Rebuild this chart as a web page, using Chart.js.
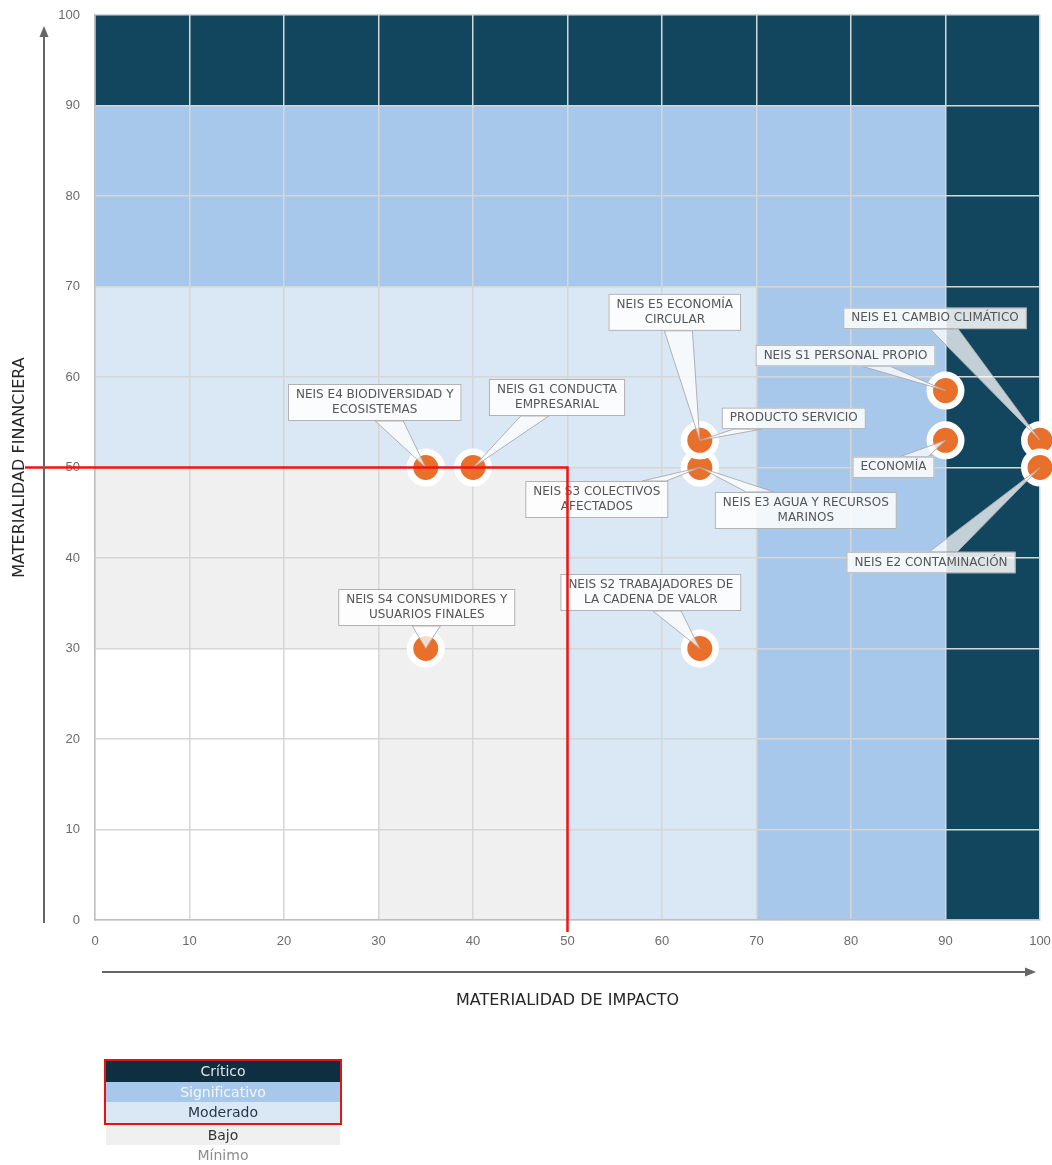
<!DOCTYPE html>
<html lang="es">
<head>
<meta charset="utf-8">
<title>Matriz de doble materialidad</title>
<script src="https://cdn.jsdelivr.net/npm/chart.js@4.4.1/dist/chart.umd.min.js"></script>
<style>
  body { margin: 0; background: #fff; }
  #wrap { position: relative; width: 1052px; height: 1165px; }
  #legend { position: absolute; left: 106px; top: 1059px; width: 234px; font: 14px 'DejaVu Sans', sans-serif; }
  #legend .row { height: 20.6px; line-height: 20.6px; text-align: center; }
  #legend .box { border: 2px solid #e8120f; margin: 0 -2px; }
</style>
</head>
<body>
<div id="wrap">
  <canvas id="matrix" width="1052" height="1165"></canvas>
  <div id="legend"></div>
</div>
<script>
// temas materiales: impacto (x) y financiera (y)
const topics = [
  'NEIS E4 BIODIVERSIDAD Y\nECOSISTEMAS',
  'NEIS G1 CONDUCTA\nEMPRESARIAL',
  'NEIS S4 CONSUMIDORES Y\nUSUARIOS FINALES',
  'NEIS S2 TRABAJADORES DE\nLA CADENA DE VALOR',
  'NEIS S3 COLECTIVOS\nAFECTADOS',
  'NEIS E3 AGUA Y RECURSOS\nMARINOS',
  'NEIS E5 ECONOMÍA\nCIRCULAR',
  'PRODUCTO SERVICIO',
  'NEIS S1 PERSONAL PROPIO',
  'ECONOMÍA',
  'NEIS E1 CAMBIO CLIMÁTICO',
  'NEIS E2 CONTAMINACIÓN'
];
const impacto    = [35, 40, 35, 64, 64, 64, 64, 64, 90, 90, 100, 100];
const financiera = [50, 50, 30, 30, 50, 50, 53, 53, 58.5, 53, 53, 50];

// niveles: limite superior de cada cuadrado anidado
const zoneNames  = ['Crítico', 'Significativo', 'Moderado', 'Bajo', 'Mínimo'];
const zoneLimits = [100, 90, 70, 50, 30];
const umbral = 50;

const axisTicks = [0, 10, 20, 30, 40, 50, 60, 70, 80, 90, 100];

// estilos
const zoneColors   = ['#12465f', '#a7c8ea', '#dae7f4', '#f0f0f0', '#ffffff'];
const legendColors = ['#0e2e42', '#a7c8ea', '#dae7f4', '#f0f0f0', '#ffffff'];
const legendText   = ['#e4e4e4', '#f2f7fc', '#24384a', '#333333', '#8c8c8c'];
// desplazamiento de cada etiqueta respecto a su punto (px)
const calloutShift = [
  [-51, -65], [84, -70], [1, -41], [-49, -56], [-103, 32], [106, 43],
  [-25, -128], [94, -22], [-100, -35], [-52, 27], [-105, -122], [-109, 95]
];
const calloutFont = "12px 'DejaVu Sans', sans-serif";

const zonesPlugin = {
  id: 'zones',
  beforeDraw(chart) {
    const { ctx, scales: { x, y } } = chart;
    ctx.save();
    zoneLimits.forEach((lim, i) => {
      const x0 = x.getPixelForValue(0), x1 = x.getPixelForValue(lim);
      const y0 = y.getPixelForValue(0), y1 = y.getPixelForValue(lim);
      ctx.fillStyle = zoneColors[i];
      ctx.fillRect(x0, y1, x1 - x0, y0 - y1);
    });
    ctx.restore();
  }
};

function drawCallout(ctx, px, py, lines, cx, cy) {
  ctx.font = calloutFont;
  const w = Math.max(...lines.map(l => ctx.measureText(l).width)) + 16;
  const h = lines.length * 15.5 + 6;
  const bx = cx - w / 2, by = cy - h / 2;
  const dx = px - cx, dy = py - cy;
  const tx = dx !== 0 ? (w / 2) / Math.abs(dx) : Infinity;
  const ty = dy !== 0 ? (h / 2) / Math.abs(dy) : Infinity;
  const hw = 14;
  let a, b;
  if (ty < tx) {
    const ex = cx + dx * ty, ey = cy + dy * ty;
    const l = Math.max(bx + 2, ex - hw), r = Math.min(bx + w - 2, ex + hw);
    a = [l, ey]; b = [r, ey];
  } else {
    const ex = cx + dx * tx, ey = cy + dy * tx;
    const hv = Math.min(hw, h / 2 - 2);
    const t = Math.max(by + 2, ey - hv), btm = Math.min(by + h - 2, ey + hv);
    a = [ex, t]; b = [ex, btm];
  }
  // cuña hacia el punto, recortada fuera del recuadro
  ctx.save();
  ctx.beginPath();
  ctx.rect(0, 0, ctx.canvas.width, ctx.canvas.height);
  ctx.rect(bx, by, w, h);
  ctx.clip('evenodd');
  ctx.beginPath();
  ctx.moveTo(a[0], a[1]);
  ctx.lineTo(px, py);
  ctx.lineTo(b[0], b[1]);
  ctx.closePath();
  ctx.fillStyle = 'rgba(255,255,255,0.75)';
  ctx.fill();
  ctx.strokeStyle = 'rgba(170,170,170,0.9)';
  ctx.lineWidth = 1;
  ctx.stroke();
  ctx.restore();

  ctx.fillStyle = 'rgba(255,255,255,0.85)';
  ctx.fillRect(bx, by, w, h);
  ctx.strokeStyle = 'rgba(170,170,170,0.9)';
  ctx.lineWidth = 1;
  ctx.strokeRect(bx + 0.5, by + 0.5, w - 1, h - 1);
  ctx.fillStyle = '#555555';
  ctx.textAlign = 'center';
  ctx.textBaseline = 'middle';
  lines.forEach((l, i) => {
    ctx.fillText(l, cx, by + 3 + 7.75 + i * 15.5);
  });
}

const overlayPlugin = {
  id: 'overlay',
  afterDatasetsDraw(chart) {
    const { ctx, chartArea, scales: { x, y } } = chart;
    const meta = chart.getDatasetMeta(0);
    meta.data.forEach((pt, i) => {
      const [sx, sy] = calloutShift[i];
      drawCallout(ctx, pt.x, pt.y, topics[i].split('\n'), pt.x + sx, pt.y + sy);
    });

    // linea de umbral
    ctx.save();
    ctx.strokeStyle = '#f01414';
    ctx.lineWidth = 2.5;
    ctx.beginPath();
    ctx.moveTo(chartArea.left - 70, y.getPixelForValue(umbral));
    ctx.lineTo(x.getPixelForValue(umbral), y.getPixelForValue(umbral));
    ctx.lineTo(x.getPixelForValue(umbral), chartArea.bottom + 12);
    ctx.stroke();
    ctx.restore();
  },
  afterDraw(chart) {
    const { ctx, chartArea: ca } = chart;
    ctx.save();
    ctx.strokeStyle = '#666';
    ctx.fillStyle = '#666';
    ctx.lineWidth = 2;
    // flecha vertical
    const ax = ca.left - 51;
    ctx.beginPath();
    ctx.moveTo(ax, ca.bottom + 3);
    ctx.lineTo(ax, ca.top + 20);
    ctx.stroke();
    ctx.beginPath();
    ctx.moveTo(ax, ca.top + 11);
    ctx.lineTo(ax - 4.5, ca.top + 22);
    ctx.lineTo(ax + 4.5, ca.top + 22);
    ctx.closePath();
    ctx.fill();
    // flecha horizontal
    const ay = ca.bottom + 52;
    ctx.beginPath();
    ctx.moveTo(ca.left + 7, ay);
    ctx.lineTo(ca.right - 12, ay);
    ctx.stroke();
    ctx.beginPath();
    ctx.moveTo(ca.right - 4, ay);
    ctx.lineTo(ca.right - 15, ay - 4.5);
    ctx.lineTo(ca.right - 15, ay + 4.5);
    ctx.closePath();
    ctx.fill();

    // titulos de ejes
    ctx.fillStyle = '#262626';
    ctx.font = "16px 'DejaVu Sans', sans-serif";
    ctx.textAlign = 'center';
    ctx.textBaseline = 'middle';
    ctx.fillText('MATERIALIDAD DE IMPACTO', (ca.left + ca.right) / 2, ca.bottom + 81);
    ctx.translate(ca.left - 75, (ca.top + ca.bottom) / 2);
    ctx.rotate(-Math.PI / 2);
    ctx.fillText('MATERIALIDAD FINANCIERA', 0, 0);
    ctx.restore();
  }
};

const tickFont = { family: "'Liberation Sans', sans-serif", size: 13 };
const gridOpts = { color: '#d6d6d6', lineWidth: 1.5, drawTicks: false };

new Chart(document.getElementById('matrix'), {
  type: 'scatter',
  data: {
    datasets: [{
      data: impacto.map((v, i) => ({ x: v, y: financiera[i] })),
      backgroundColor: '#e8702a',
      borderColor: '#ffffff',
      borderWidth: 6.5,
      pointRadius: 15.75,
      clip: false
    }]
  },
  options: {
    responsive: false,
    animation: false,
    events: [],
    layout: { autoPadding: false, padding: { left: 30, top: 15, right: 12, bottom: 205 } },
    plugins: { legend: { display: false }, tooltip: { enabled: false } },
    scales: {
      x: {
        min: 0, max: 100,
        afterBuildTicks: s => { s.ticks = axisTicks.map(v => ({ value: v })); },
        afterFit: s => { s.height = 40; s.paddingLeft = 0; s.paddingRight = 0; },
        ticks: { color: '#6b6b6b', font: tickFont, padding: 14, maxRotation: 0 },
        grid: gridOpts,
        border: { color: '#bfbfbf', width: 1.5 }
      },
      y: {
        min: 0, max: 100,
        afterBuildTicks: s => { s.ticks = axisTicks.map(v => ({ value: v })); },
        afterFit: s => { s.width = 65; s.paddingTop = 0; s.paddingBottom = 0; },
        ticks: { color: '#6b6b6b', font: tickFont, padding: 15 },
        grid: gridOpts,
        border: { color: '#bfbfbf', width: 1.5 }
      }
    }
  },
  plugins: [zonesPlugin, overlayPlugin]
});

// leyenda de niveles
const legend = document.getElementById('legend');
const box = document.createElement('div');
box.className = 'box';
zoneNames.forEach((name, i) => {
  const row = document.createElement('div');
  row.className = 'row';
  row.textContent = name;
  row.style.background = legendColors[i];
  row.style.color = legendText[i];
  (i < 3 ? box : legend).appendChild(row);
  if (i === 0) legend.appendChild(box);
});
</script>
</body>
</html>
